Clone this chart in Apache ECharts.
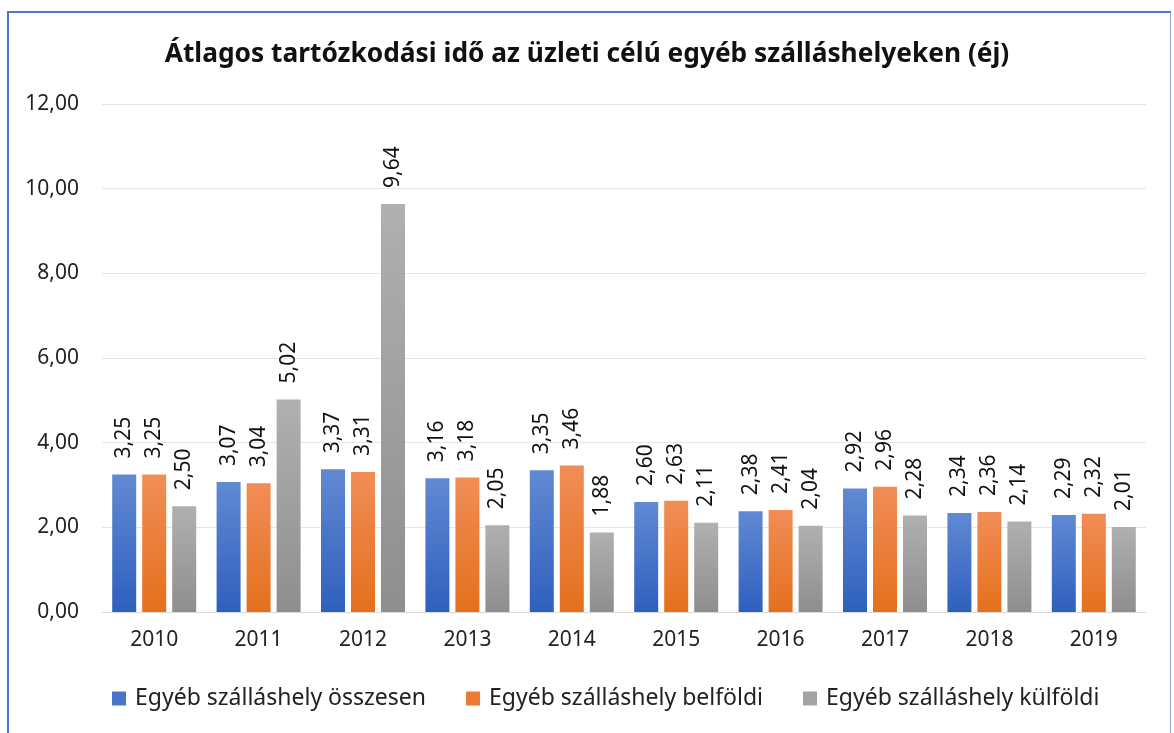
<!DOCTYPE html>
<html>
<head>
<meta charset="utf-8">
<script src="https://cdn.jsdelivr.net/npm/echarts@6/dist/echarts.min.js"></script>
<style>
html,body{margin:0;padding:0;background:#fff;}
#frame{position:absolute;left:7px;top:11px;width:1161px;height:740px;border-top:2px solid #4f78cc;border-left:2px solid #4f78cc;border-right:1px solid #8aa6dc;}
#chart{position:absolute;left:0;top:0;width:1174px;height:733px;}
</style>
</head>
<body>
<div id="frame"></div>
<div id="chart"></div>
<script>
const titleText = 'Átlagos tartózkodási idő az üzleti célú egyéb szálláshelyeken (éj)';
const categories = ['2010','2011','2012','2013','2014','2015','2016','2017','2018','2019'];
const seriesNames = ['Egyéb szálláshely összesen','Egyéb szálláshely belföldi','Egyéb szálláshely külföldi'];
const osszesen = [3.25, 3.07, 3.37, 3.16, 3.35, 2.60, 2.38, 2.92, 2.34, 2.29];
const belfoldi = [3.25, 3.04, 3.31, 3.18, 3.46, 2.63, 2.41, 2.96, 2.36, 2.32];
const kulfoldi = [2.50, 5.02, 9.64, 2.05, 1.88, 2.11, 2.04, 2.28, 2.14, 2.01];
const yMin = 0, yMax = 12, yStep = 2;

const FONT = 'Noto Sans';
const fmt = v => v.toFixed(2).replace('.', ',');
const grad = (top, bottom) => new echarts.graphic.LinearGradient(0, 0, 0, 1, [
  {offset: 0, color: top}, {offset: 1, color: bottom}
]);
const colors = [
  grad('#618ad3', '#2f5fbe'),
  grad('#f18d57', '#e4701c'),
  grad('#b0b0b0', '#8e8e8e')
];
const legendColors = ['#4a74c9', '#ec7a35', '#a3a3a3'];
const datas = [osszesen, belfoldi, kulfoldi];

const chart = echarts.init(document.getElementById('chart'), null, {renderer: 'canvas'});
chart.setOption({
  animation: false,
  backgroundColor: 'transparent',
  title: {
    text: titleText,
    left: 'center',
    top: 37,
    textStyle: {fontFamily: FONT, fontSize: 26.3, fontWeight: 'bold', color: '#111'}
  },
  legend: {
    bottom: 18,
    left: 107,
    icon: 'rect',
    itemWidth: 14,
    itemHeight: 14,
    itemGap: 40,
    textStyle: {fontFamily: FONT, fontSize: 23, color: '#222', padding: [0, 0, 0, 4]},
    data: seriesNames.map((n, i) => ({name: n, itemStyle: {color: legendColors[i]}}))
  },
  grid: {left: 102, right: 28, top: 104, bottom: 121, containLabel: false},
  xAxis: {
    type: 'category',
    data: categories,
    axisLine: {lineStyle: {color: '#d9d9d9', width: 1}},
    axisTick: {show: false},
    axisLabel: {fontFamily: FONT, fontSize: 21, color: '#222', margin: 18}
  },
  yAxis: {
    type: 'value',
    min: yMin, max: yMax, interval: yStep,
    axisLine: {show: false},
    axisTick: {show: false},
    splitLine: {lineStyle: {color: '#e3e6ea', width: 1}},
    axisLabel: {fontFamily: FONT, fontSize: 21, color: '#222', margin: 23, formatter: v => fmt(v)}
  },
  series: datas.map((d, i) => ({
    name: seriesNames[i],
    type: 'bar',
    data: d,
    barWidth: 24,
    barGap: '25%',
    itemStyle: {color: colors[i]},
    label: {
      show: true,
      position: 'top',
      rotate: 90,
      align: 'left',
      verticalAlign: 'middle',
      distance: 16,
      fontFamily: FONT,
      fontSize: 21,
      color: '#111',
      formatter: p => fmt(p.value)
    }
  }))
});
</script>
</body>
</html>
